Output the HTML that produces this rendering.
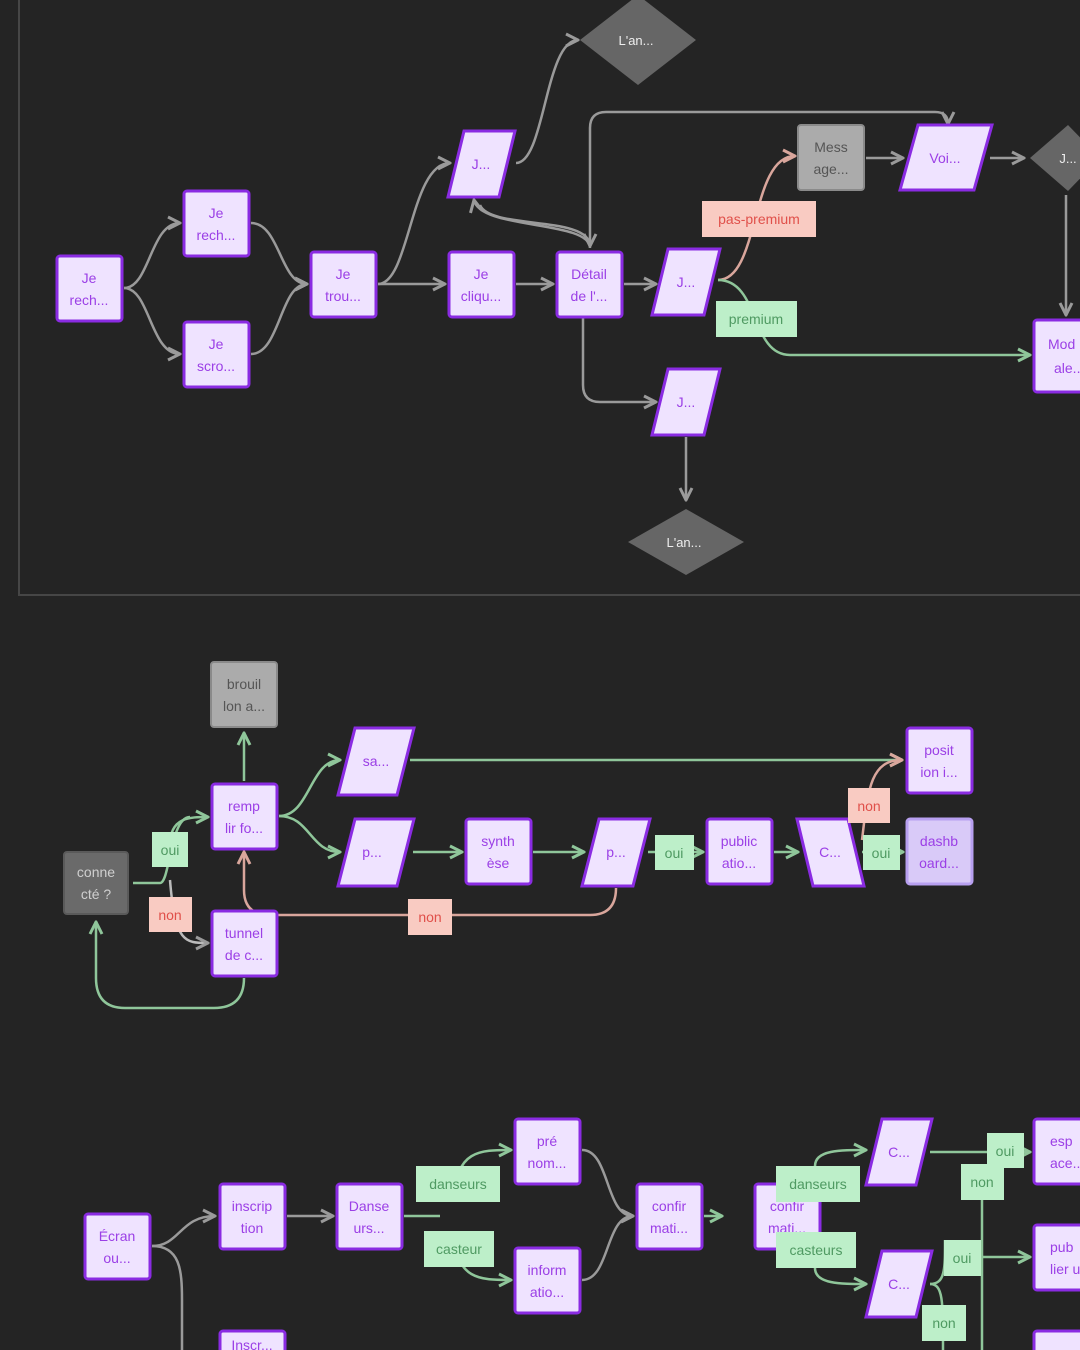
<!DOCTYPE html>
<html><head><meta charset="utf-8"><style>
html,body{margin:0;padding:0;background:#242424;}
svg{display:block}
text{font-family:"Liberation Sans",sans-serif;font-size:14px;text-anchor:middle}
.n{fill:#efe3ff;stroke:#8a2be2;stroke-width:3}
.nt{fill:#9b3fe6}
.g{fill:none;stroke:#9a9a9a;stroke-width:2.5}
.gr{fill:none;stroke:#8fc69a;stroke-width:2.5}
.pk{fill:none;stroke:#d9a69c;stroke-width:2.5}
.lg{fill:#bdefc9}.lgt{fill:#4f9a62}
.lp{fill:#f9cbc2}.lpt{fill:#e0504a}
</style></head><body>
<svg width="1080" height="1350" viewBox="0 0 1080 1350" xmlns="http://www.w3.org/2000/svg">
<defs>
<marker id="ag" viewBox="0 0 10 10" refX="9" refY="5" markerWidth="6" markerHeight="6" orient="auto"><path d="M1 1 L9 5 L1 9" fill="none" stroke="#9a9a9a" stroke-width="2"/></marker>
<marker id="agr" viewBox="0 0 10 10" refX="9" refY="5" markerWidth="6" markerHeight="6" orient="auto"><path d="M1 1 L9 5 L1 9" fill="none" stroke="#8fc69a" stroke-width="2"/></marker>
<marker id="apk" viewBox="0 0 10 10" refX="9" refY="5" markerWidth="6" markerHeight="6" orient="auto"><path d="M1 1 L9 5 L1 9" fill="none" stroke="#d9a69c" stroke-width="2"/></marker>
</defs>
<rect x="19" y="-10" width="1080" height="605" fill="none" stroke="#464646" stroke-width="2"/>

<!-- top connectors -->
<path class="g" marker-end="url(#ag)" d="M124 288 C150 288 150 223 180 223"/>
<path class="g" marker-end="url(#ag)" d="M124 288 C150 288 150 354 180 354"/>
<path class="g" marker-end="url(#ag)" d="M251 223 C280 223 280 284 307 284"/>
<path class="g" marker-end="url(#ag)" d="M251 354 C280 354 280 284 307 284"/>
<path class="g" marker-end="url(#ag)" d="M378 284 L445 284"/>
<path class="g" marker-end="url(#ag)" d="M378 284 C410 284 410 163 450 163"/>
<path class="g" marker-end="url(#ag)" d="M516 284 L553 284"/>
<path class="g" marker-end="url(#ag)" d="M516 163 C545 163 545 40 578 40"/>
<path class="g" marker-end="url(#ag)" d="M590 248 C590 220 480 230 474 200"/>
<path class="g" marker-end="url(#ag)" d="M480 205 C490 230 590 215 590 246"/>
<path class="g" marker-end="url(#ag)" d="M624 284 L656 284"/>
<path class="g" marker-end="url(#ag)" d="M583 318 L583 385 Q583 402 600 402 L656 402"/>
<path class="g" marker-end="url(#ag)" d="M686 437 L686 500"/>
<path class="g" marker-end="url(#ag)" d="M590 246 L590 128 Q590 112 606 112 L935 112 Q948 112 948 124"/>
<path class="pk" marker-end="url(#apk)" d="M718 280 C760 280 750 156 795 156"/>
<path class="gr" marker-end="url(#agr)" d="M718 280 C760 280 750 355 790 355 L1030 355"/>
<path class="g" marker-end="url(#ag)" d="M866 158 L903 158"/>
<path class="g" marker-end="url(#ag)" d="M990 158 L1024 158"/>
<path class="g" marker-end="url(#ag)" d="M1066 195 L1066 315"/>

<!-- top nodes -->
<rect class="n" x="57" y="256" width="65" height="65" rx="3"/><text class="nt" x="89" y="283">Je</text><text class="nt" x="89" y="305">rech...</text>
<rect class="n" x="184" y="191" width="65" height="65" rx="3"/><text class="nt" x="216" y="218">Je</text><text class="nt" x="216" y="240">rech...</text>
<rect class="n" x="184" y="322" width="65" height="65" rx="3"/><text class="nt" x="216" y="349">Je</text><text class="nt" x="216" y="371">scro...</text>
<rect class="n" x="311" y="252" width="65" height="65" rx="3"/><text class="nt" x="343" y="279">Je</text><text class="nt" x="343" y="301">trou...</text>
<rect class="n" x="449" y="252" width="65" height="65" rx="3"/><text class="nt" x="481" y="279">Je</text><text class="nt" x="481" y="301">cliqu...</text>
<rect class="n" x="557" y="252" width="65" height="65" rx="3"/><text class="nt" x="589" y="279">Détail</text><text class="nt" x="589" y="301">de l'...</text>
<path class="n" d="M464 131 L515 131 L499 197 L448 197 Z"/><text class="nt" x="481" y="169">J...</text>
<path class="n" d="M668 249 L720 249 L704 315 L652 315 Z"/><text class="nt" x="686" y="287">J...</text>
<path class="n" d="M668 369 L720 369 L704 435 L652 435 Z"/><text class="nt" x="686" y="407">J...</text>
<path d="M638 -5 L696 40 L638 85 L580 40 Z" fill="#666"/><text x="636" y="45" fill="#eee" style="font-size:13px">L'an...</text>
<path d="M686 509 L744 542 L686 575 L628 542 Z" fill="#666"/><text x="684" y="547" fill="#eee" style="font-size:13px">L'an...</text>
<rect x="798" y="125" width="66" height="65" rx="3" fill="#ababab" stroke="#8a8a8a" stroke-width="2"/><text x="831" y="152" fill="#555">Mess</text><text x="831" y="174" fill="#555">age...</text>
<path class="n" d="M918 125 L992 125 L974 190 L900 190 Z"/><text class="nt" x="945" y="163">Voi...</text>
<path d="M1068 125 L1100 158 L1068 191 L1030 158 Z" fill="#666"/><text x="1068" y="163" fill="#eee" style="font-size:13px">J...</text>
<rect class="n" x="1034" y="320" width="60" height="72" rx="3"/><text class="nt" x="1064" y="349" style="text-anchor:start" dx="-16">Mod</text><text class="nt" x="1064" y="373" style="text-anchor:start" dx="-10">ale...</text>
<rect class="lp" x="702" y="201" width="114" height="36"/><text class="lpt" x="759" y="224">pas-premium</text>
<rect class="lg" x="716" y="301" width="81" height="36"/><text class="lgt" x="756" y="324">premium</text>

<!-- middle connectors -->
<path class="gr" marker-end="url(#agr)" d="M244 781 L244 733"/>
<path class="gr" d="M133 883 L160 883 C170 883 170 817 190 817"/>
<path class="gr" marker-end="url(#agr)" d="M170 845 C170 817 190 817 208 817"/>
<path class="g" marker-end="url(#ag)" d="M170 880 C175 943 185 943 208 943" style="stroke:#bbb"/>
<path class="gr" marker-end="url(#agr)" d="M244 978 Q244 1008 214 1008 L125 1008 Q96 1008 96 978 L96 922"/>
<path class="pk" marker-end="url(#apk)" d="M616 888 Q616 915 590 915 L270 915 Q244 915 244 890 L244 852"/>
<path class="gr" marker-end="url(#agr)" d="M279 816 C310 816 310 760 340 760"/>
<path class="gr" marker-end="url(#agr)" d="M279 816 C310 816 310 852 340 852"/>
<path class="gr" marker-end="url(#agr)" d="M410 760 L902 760"/>
<path class="gr" marker-end="url(#agr)" d="M413 852 L462 852"/>
<path class="gr" marker-end="url(#agr)" d="M533 852 L584 852"/>
<path class="gr" marker-end="url(#agr)" d="M648 852 L703 852"/>
<path class="gr" marker-end="url(#agr)" d="M774 852 L798 852"/>
<path class="gr" marker-end="url(#agr)" d="M862 852 L903 852"/>
<path class="pk" marker-end="url(#apk)" d="M862 840 C868 790 870 760 902 760"/>

<!-- middle nodes -->
<rect x="64" y="852" width="64" height="62" rx="3" fill="#6a6a6a" stroke="#5a5a5a" stroke-width="2"/><text x="96" y="877" fill="#cfcfcf">conne</text><text x="96" y="899" fill="#cfcfcf">cté ?</text>
<rect x="211" y="662" width="66" height="65" rx="3" fill="#ababab" stroke="#8a8a8a" stroke-width="2"/><text x="244" y="689" fill="#555">brouil</text><text x="244" y="711" fill="#555">lon a...</text>
<rect class="n" x="212" y="784" width="65" height="65" rx="3"/><text class="nt" x="244" y="811">remp</text><text class="nt" x="244" y="833">lir fo...</text>
<rect class="n" x="212" y="911" width="65" height="65" rx="3"/><text class="nt" x="244" y="938">tunnel</text><text class="nt" x="244" y="960">de c...</text>
<path class="n" d="M355 728 L414 728 L397 795 L338 795 Z"/><text class="nt" x="376" y="766">sa...</text>
<path class="n" d="M355 819 L414 819 L397 886 L338 886 Z"/><text class="nt" x="372" y="857">p...</text>
<rect class="n" x="466" y="819" width="65" height="65" rx="3"/><text class="nt" x="498" y="846">synth</text><text class="nt" x="498" y="868">èse</text>
<path class="n" d="M599 819 L650 819 L633 886 L582 886 Z"/><text class="nt" x="616" y="857">p...</text>
<rect class="n" x="707" y="819" width="65" height="65" rx="3"/><text class="nt" x="739" y="846">public</text><text class="nt" x="739" y="868">atio...</text>
<path class="n" d="M797 819 L848 819 L864 886 L813 886 Z"/><text class="nt" x="830" y="857">C...</text>
<rect x="907" y="819" width="65" height="65" rx="3" fill="#d9caf8" stroke="#b8a0f0" stroke-width="3"/><text class="nt" x="939" y="846">dashb</text><text class="nt" x="939" y="868">oard...</text>
<rect class="n" x="907" y="728" width="65" height="65" rx="3"/><text class="nt" x="939" y="755">posit</text><text class="nt" x="939" y="777">ion i...</text>
<rect class="lg" x="152" y="832" width="36" height="35"/><text class="lgt" x="170" y="855">oui</text>
<rect class="lp" x="149" y="897" width="43" height="35"/><text class="lpt" x="170" y="920">non</text>
<rect class="lp" x="408" y="899" width="44" height="36"/><text class="lpt" x="430" y="922">non</text>
<rect class="lg" x="655" y="835" width="39" height="35"/><text class="lgt" x="674" y="858">oui</text>
<rect class="lg" x="863" y="835" width="37" height="35"/><text class="lgt" x="881" y="858">oui</text>
<rect class="lp" x="848" y="788" width="42" height="35"/><text class="lpt" x="869" y="811">non</text>

<!-- bottom connectors -->
<path class="g" marker-end="url(#ag)" d="M152 1246 C180 1246 180 1216 215 1216"/>
<path class="g" d="M152 1246 C180 1246 182 1270 182 1300 L182 1350"/>
<path class="g" marker-end="url(#ag)" d="M287 1216 L333 1216"/>
<path class="gr" d="M404 1216 L440 1216"/>
<path class="gr" marker-end="url(#agr)" d="M455 1200 C455 1150 480 1150 511 1150"/>
<path class="gr" marker-end="url(#agr)" d="M455 1232 C455 1280 480 1280 511 1280"/>
<path class="g" marker-end="url(#ag)" d="M582 1150 C610 1150 605 1216 633 1216"/>
<path class="g" marker-end="url(#ag)" d="M582 1280 C610 1280 605 1216 633 1216"/>
<path class="gr" marker-end="url(#agr)" d="M704 1216 L722 1216"/>
<path class="gr" marker-end="url(#agr)" d="M815 1166 C815 1150 840 1150 866 1150"/>
<path class="gr" marker-end="url(#agr)" d="M815 1268 C815 1284 840 1284 866 1284"/>
<path class="gr" d="M790 1216 L810 1216"/>
<path class="gr" marker-end="url(#agr)" d="M930 1152 L1030 1152"/>
<path class="gr" d="M982 1200 L982 1350"/>
<path class="gr" marker-end="url(#agr)" d="M980 1257 L1030 1257"/>
<path class="gr" d="M930 1284 C945 1284 945 1270 945 1240"/>
<path class="gr" d="M930 1284 C943 1284 943 1300 943 1350"/>

<!-- bottom nodes -->
<rect class="n" x="85" y="1214" width="65" height="65" rx="3"/><text class="nt" x="117" y="1241">Écran</text><text class="nt" x="117" y="1263">ou...</text>
<rect class="n" x="220" y="1184" width="65" height="65" rx="3"/><text class="nt" x="252" y="1211">inscrip</text><text class="nt" x="252" y="1233">tion</text>
<rect class="n" x="337" y="1184" width="65" height="65" rx="3"/><text class="nt" x="369" y="1211">Danse</text><text class="nt" x="369" y="1233">urs...</text>
<rect class="n" x="515" y="1119" width="65" height="65" rx="3"/><text class="nt" x="547" y="1146">pré</text><text class="nt" x="547" y="1168">nom...</text>
<rect class="n" x="515" y="1248" width="65" height="65" rx="3"/><text class="nt" x="547" y="1275">inform</text><text class="nt" x="547" y="1297">atio...</text>
<rect class="n" x="637" y="1184" width="65" height="65" rx="3"/><text class="nt" x="669" y="1211">confir</text><text class="nt" x="669" y="1233">mati...</text>
<rect class="n" x="755" y="1184" width="65" height="65" rx="3"/><text class="nt" x="787" y="1211">confir</text><text class="nt" x="787" y="1233">mati...</text>
<rect class="lg" x="416" y="1166" width="84" height="36"/><text class="lgt" x="458" y="1189">danseurs</text>
<rect class="lg" x="424" y="1231" width="70" height="36"/><text class="lgt" x="459" y="1254">casteur</text>
<rect class="lg" x="776" y="1166" width="84" height="36"/><text class="lgt" x="818" y="1189">danseurs</text>
<rect class="lg" x="776" y="1232" width="80" height="36"/><text class="lgt" x="816" y="1255">casteurs</text>
<path class="n" d="M882 1119 L932 1119 L916 1185 L866 1185 Z"/><text class="nt" x="899" y="1157">C...</text>
<path class="n" d="M882 1251 L932 1251 L916 1317 L866 1317 Z"/><text class="nt" x="899" y="1289">C...</text>
<rect class="lg" x="987" y="1133" width="37" height="35"/><text class="lgt" x="1005" y="1156">oui</text>
<rect class="lg" x="961" y="1164" width="43" height="36"/><text class="lgt" x="982" y="1187">non</text>
<rect class="lg" x="944" y="1240" width="37" height="36"/><text class="lgt" x="962" y="1263">oui</text>
<rect class="lg" x="922" y="1305" width="44" height="36"/><text class="lgt" x="944" y="1328">non</text>
<rect class="n" x="1034" y="1119" width="60" height="65" rx="3"/><text class="nt" x="1050" y="1146" style="text-anchor:start">esp</text><text class="nt" x="1050" y="1168" style="text-anchor:start">ace...</text>
<rect class="n" x="1034" y="1225" width="60" height="65" rx="3"/><text class="nt" x="1050" y="1252" style="text-anchor:start">pub</text><text class="nt" x="1050" y="1274" style="text-anchor:start">lier u...</text>
<rect class="n" x="1034" y="1331" width="60" height="40" rx="3"/>
<rect class="n" x="220" y="1331" width="65" height="40" rx="3"/><text class="nt" x="252" y="1350">Inscr...</text>
</svg>
</body></html>
